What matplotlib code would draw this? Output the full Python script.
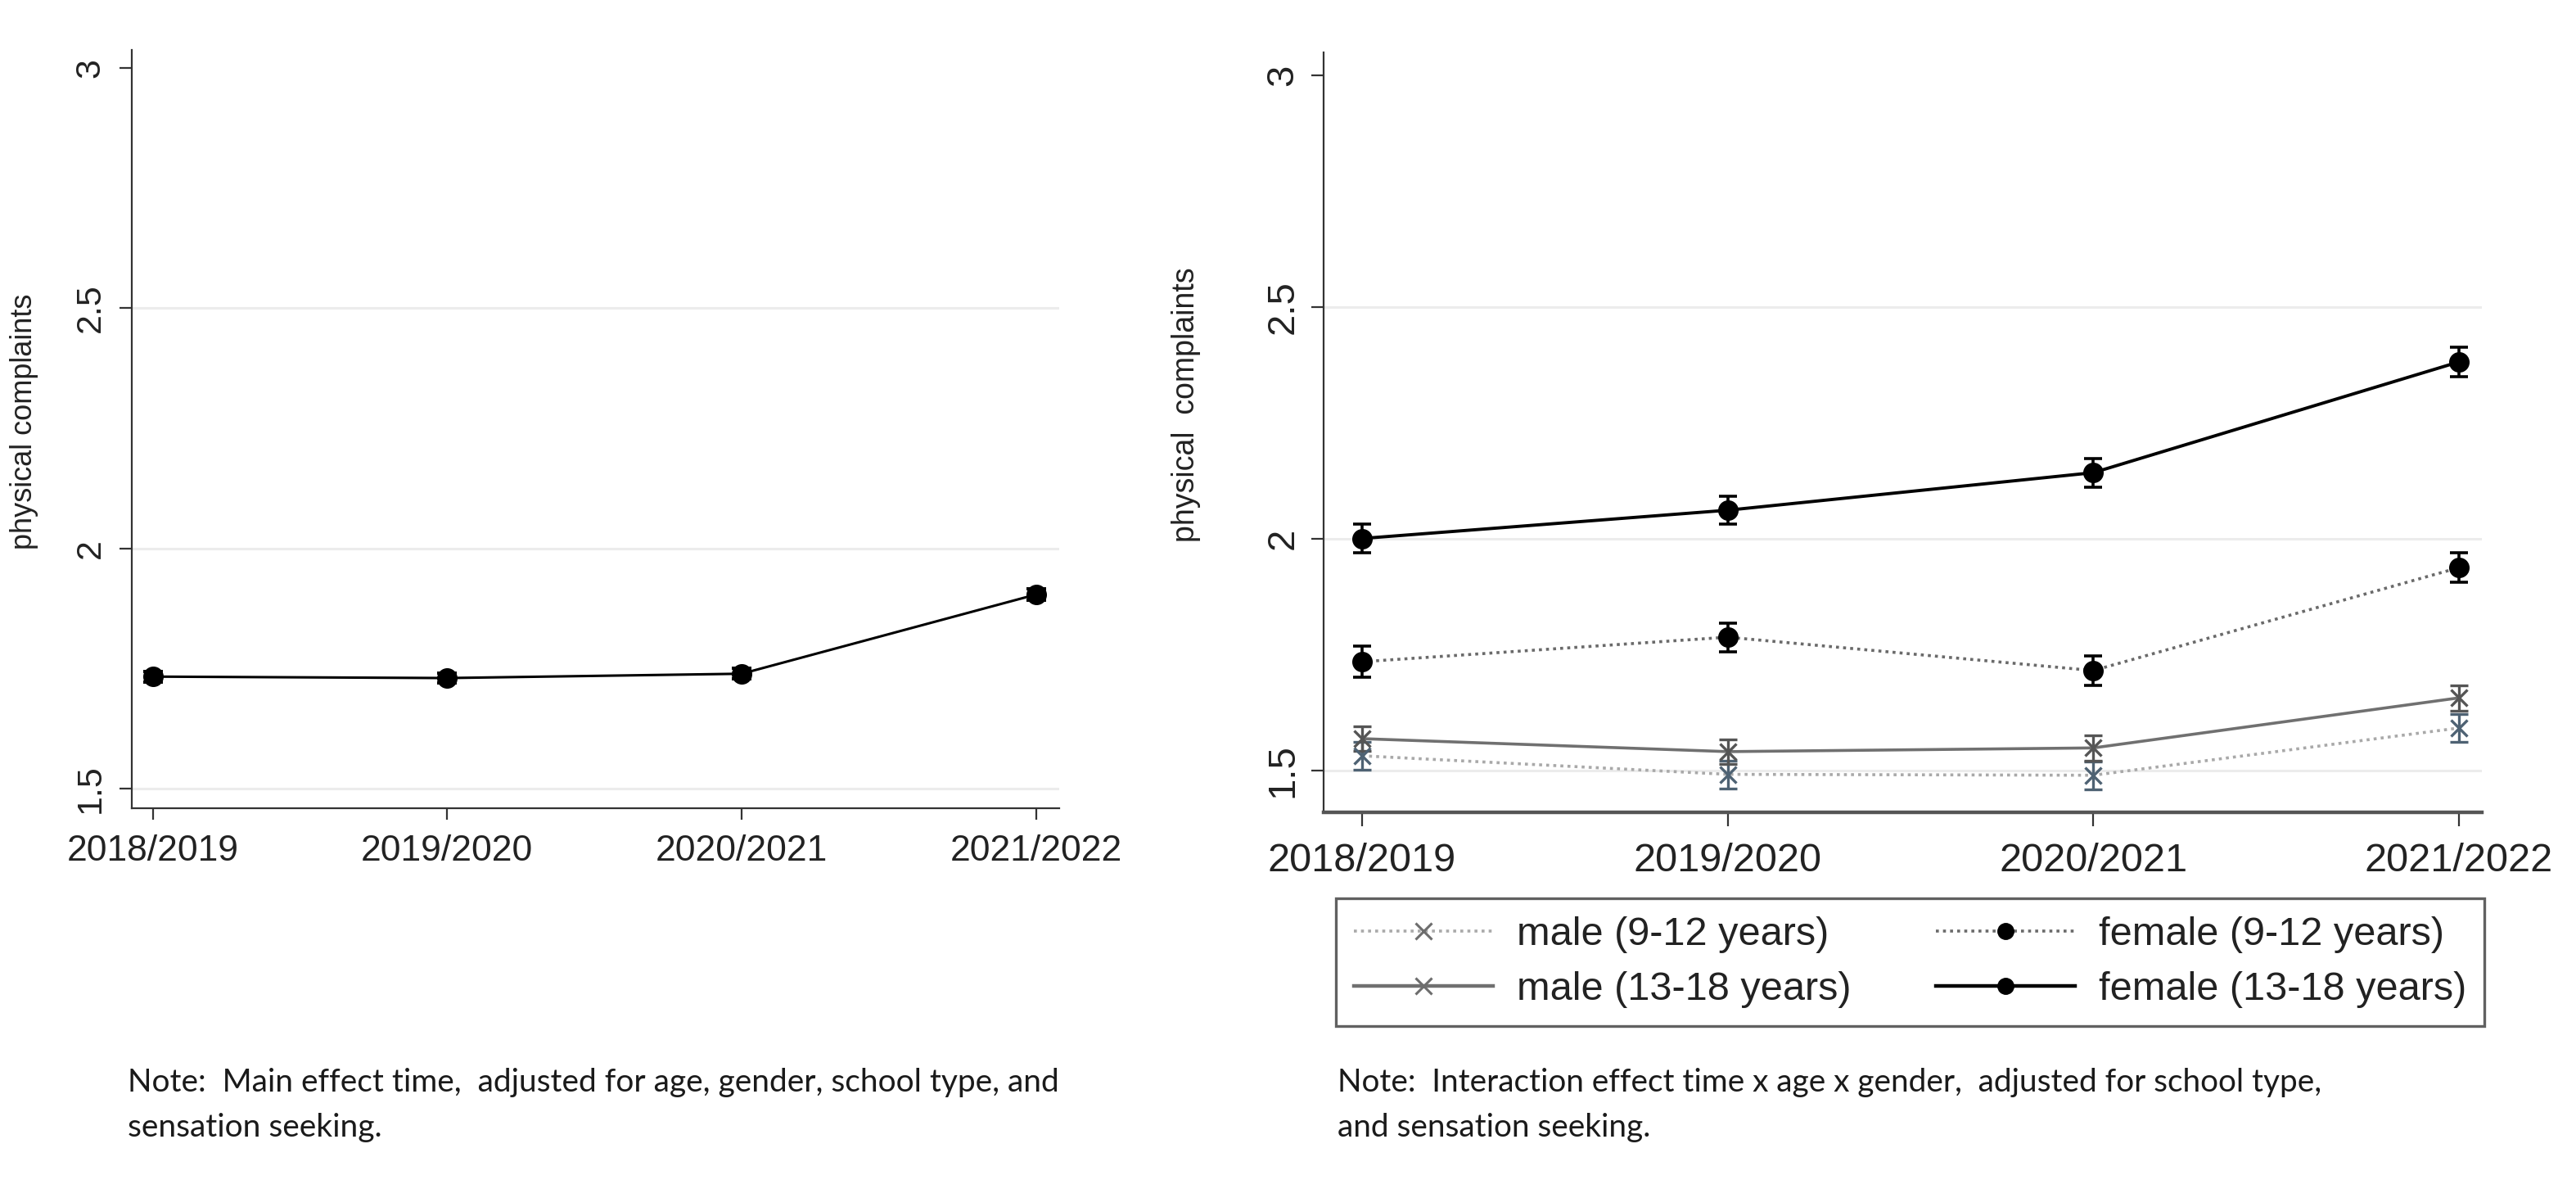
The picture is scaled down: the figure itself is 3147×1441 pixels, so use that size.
import matplotlib
matplotlib.use("Agg")
import matplotlib.pyplot as plt
from matplotlib.lines import Line2D

# ---------------- data ----------------
years = ["2018/2019", "2019/2020", "2020/2021", "2021/2022"]
y_ticks = [1.5, 2, 2.5, 3]
y_tick_labels = ["1.5", "2", "2.5", "3"]

main_mean = [1.733, 1.730, 1.739, 1.904]
main_err = [0.011, 0.011, 0.011, 0.012]

male_9_12 = [1.532, 1.492, 1.490, 1.592]
male_9_12_err = [0.030, 0.030, 0.030, 0.030]
male_13_18 = [1.569, 1.541, 1.549, 1.657]
male_13_18_err = [0.027, 0.027, 0.027, 0.027]
female_9_12 = [1.735, 1.788, 1.716, 1.938]
female_9_12_err = [0.033, 0.031, 0.032, 0.032]
female_13_18 = [2.001, 2.062, 2.143, 2.382]
female_13_18_err = [0.031, 0.030, 0.031, 0.031]

# legend is filled column by column: col 1 = males, col 2 = females
series_labels = ["male (9-12 years)", "male (13-18 years)",
                 "female (9-12 years)", "female (13-18 years)"]

note_left = ["Note:  Main effect time,  adjusted for age, gender, school type, and",
             "sensation seeking."]
note_right = ["Note:  Interaction effect time x age x gender,  adjusted for school type,",
              "and sensation seeking."]

# ---------------- figure ----------------
W, H = 3147, 1441
fig = plt.figure(figsize=(W / 100, H / 100), dpi=100)
FONT = ["Liberation Sans", "DejaVu Sans"]
plt.rcParams["font.family"] = FONT

def fx(px):
    return px / W

def fy(py):
    return 1 - py / H

x = list(range(len(years)))

ax1 = fig.add_axes([fx(161), fy(987), fx(1294) - fx(161), fy(61) - fy(987)])
ax2 = fig.add_axes([fx(1617), fy(992), fx(3032) - fx(1617), fy(64) - fy(992)])

ax1.set_ylim(1.459, 3.0375)
ax1.set_xlim(-0.071, 3.078)
ax2.set_ylim(1.41, 3.05)
ax2.set_xlim(-0.105, 3.063)

for ax, xfs, yfs, ypad, xpad, xtl in [(ax1, 32, 31, 11, 13, 10), (ax2, 35, 34, 9, 15, 12)]:
    for s in ["top", "right"]:
        ax.spines[s].set_visible(False)
    ax.spines["left"].set_color("#333333")
    ax.spines["left"].set_linewidth(1.6)
    ax.spines["bottom"].set_color("#333333")
    ax.spines["bottom"].set_linewidth(1.6)
    ax.set_yticks(y_ticks)
    ax.set_yticklabels(y_tick_labels, rotation=90, va="center", fontsize=yfs, color="#222222")
    ax.set_xticks(x)
    ax.set_xticklabels(years, fontsize=xfs, color="#222222")
    ax.tick_params(axis="y", length=11, width=1.6, color="#333333", pad=ypad)
    ax.tick_params(axis="x", length=xtl, width=1.6, color="#333333", pad=xpad)
    ax.yaxis.grid(True, color="#ececec", lw=2.2)
    ax.set_axisbelow(True)
    ax.set_facecolor("white")

ax2.spines["bottom"].set_linewidth(3.2)
ax2.spines["bottom"].set_color("#555555")

for ax in (ax1, ax2):
    fig.canvas.draw()
    gl = ax.get_ygridlines()
    gl[-1].set_visible(False)

ax1.set_ylabel("physical complaints", fontsize=26, color="#222222")
ax1.yaxis.set_label_coords(-0.1006, 0.5097)
ax2.set_ylabel("physical  complaints", fontsize=27, color="#222222")
ax2.yaxis.set_label_coords(-0.106, 0.5366)

# ---- left panel ----
ax1.errorbar(x, main_mean, yerr=main_err, color="black", lw=2.2, marker="o",
             ms=17, capsize=8.5, capthick=2.8, elinewidth=2.8, zorder=3)

# ---- right panel ----
dot = (0, (1.0, 1.4))
c_m9_line, c_m9_mk = "#a9a9a9", "#4e6273"
c_m13_line, c_m13_mk = "#707070", "#555555"
c_f9_line = "#6a6a6a"

ax2.plot(x, male_9_12, color=c_m9_line, lw=2.6, ls=dot, zorder=2)
ax2.errorbar(x, male_9_12, yerr=male_9_12_err, fmt="x", color=c_m9_mk, ms=14, mew=2.4,
             capsize=8, capthick=2.4, elinewidth=2.4, zorder=3)
ax2.plot(x, male_13_18, color=c_m13_line, lw=2.6, zorder=2)
ax2.errorbar(x, male_13_18, yerr=male_13_18_err, fmt="x", color=c_m13_mk, ms=14, mew=2.4,
             capsize=8, capthick=2.4, elinewidth=2.4, zorder=3)
ax2.plot(x, female_9_12, color=c_f9_line, lw=2.6, ls=dot, zorder=2)
ax2.errorbar(x, female_9_12, yerr=female_9_12_err, fmt="o", color="black", ms=17,
             capsize=8, capthick=2.6, elinewidth=2.6, zorder=3)
ax2.plot(x, female_13_18, color="black", lw=2.8, zorder=2)
ax2.errorbar(x, female_13_18, yerr=female_13_18_err, fmt="o", color="black", ms=17,
             capsize=8, capthick=2.6, elinewidth=2.6, zorder=3)

handles = [
    Line2D([], [], color=c_m9_line, ls=dot, lw=2.6, marker="x", ms=15, mew=2.2, mec="#6d6d6d"),
    Line2D([], [], color=c_m13_line, lw=3.2, marker="x", ms=15, mew=2.2, mec="#6d6d6d"),
    Line2D([], [], color=c_f9_line, ls=dot, lw=2.6, marker="o", ms=14, mfc="black", mec="black"),
    Line2D([], [], color="black", lw=3.2, marker="o", ms=14, mfc="black", mec="black"),
]
leg = fig.legend(handles, series_labels, ncol=2, loc="center",
                 bbox_to_anchor=(fx(1632), fy(1252), fx(3035) - fx(1632), fy(1098) - fy(1252)),
                 mode="expand", fontsize=35, frameon=True, fancybox=False,
                 handlelength=3.5, handletextpad=0.6, columnspacing=2.0,
                 labelspacing=0.45, borderpad=0.45, borderaxespad=0)
leg.get_frame().set_edgecolor("#3a3a3a")
leg.get_frame().set_linewidth(2.4)
for t in leg.get_texts():
    t.set_color("#222222")

# ---- notes ----
NOTEFONT = ["Lato", "DejaVu Sans"]
renderer = fig.canvas.get_renderer()

def fitted_note(lines, x0, targ_w, y_base):
    t0 = fig.text(fx(x0), fy(y_base[0]), lines[0], fontsize=26, family=NOTEFONT,
                  va="baseline", ha="left", color="#1a1a1a")
    w = t0.get_window_extent(renderer).width
    size = 26 * targ_w / w
    t0.set_fontsize(size)
    fig.text(fx(x0), fy(y_base[1]), lines[1], fontsize=size, family=NOTEFONT,
             va="baseline", ha="left", color="#1a1a1a")

fitted_note(note_left, 156, 1134, (1333, 1388))
fitted_note(note_right, 1634, 1197, (1333, 1388))

fig.savefig("out.png", dpi=100, facecolor="white")
